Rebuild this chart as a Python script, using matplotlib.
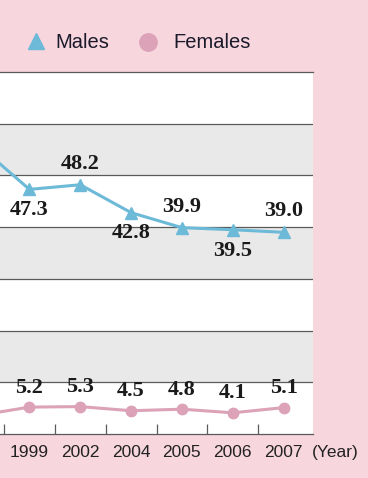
import matplotlib
matplotlib.use('Agg')
import matplotlib.pyplot as plt

# data (first point sits left of the visible area, its year is cut off)
years = ['', '1999', '2002', '2004', '2005', '2006', '2007']
males = [55.8, 47.3, 48.2, 42.8, 39.9, 39.5, 39.0]
females = [3.6, 5.2, 5.3, 4.5, 4.8, 4.1, 5.1]
# where the male value label sits: 1 above, -1 below
male_side = [1, -1, 1, -1, 1, -1, 1]

bg = '#f7d6de'
blue = '#6cb9d8'
pink = '#dba2b8'

fig = plt.figure(figsize=(3.68, 4.78), dpi=100, facecolor=bg)
ax = fig.add_axes([0, 44/478, 313/368, (434-72)/478])
ax.set_facecolor('white')

x = list(range(len(years)))

for lo in (10, 30, 50):
    ax.axhspan(lo, lo + 10, color='#e9e9e9', zorder=0, lw=0)
for yv in range(10, 70, 10):
    ax.axhline(yv, color='#5a5a5a', lw=0.9, zorder=1)

ax.plot(x, males, color=blue, lw=2.2, marker='^', ms=8.5, zorder=3)
ax.plot(x, females, color=pink, lw=2.2, marker='o', ms=7.5, zorder=3)

ax.set_yticks([])
ax.set_xticks(x)
ax.set_xticklabels(years, fontsize=12.5, family='Liberation Sans', color='#222222')
ax.tick_params(axis='x', which='major', length=0, pad=8)
ax.set_xticks([i + 0.5 for i in range(len(years) - 1)], minor=True)
ax.tick_params(axis='x', which='minor', direction='in', length=7, width=0.9,
               color='#5a5a5a')
ax.set_xlim(0.42, 6.58)
ax.set_ylim(0, 70)

for i in x:
    ax.annotate(f'{males[i]:.1f}', (i, males[i]), xytext=(0, 15 * male_side[i]),
                textcoords='offset points', ha='center', va='center',
                fontsize=16, fontweight='bold', family='Liberation Serif',
                color='#1a1a1a', annotation_clip=True)
    ax.annotate(f'{females[i]:.1f}', (i, females[i]), xytext=(0, 14),
                textcoords='offset points', ha='center', va='center',
                fontsize=16, fontweight='bold', family='Liberation Serif',
                color='#1a1a1a', annotation_clip=True)

for s in ('left', 'right'):
    ax.spines[s].set_visible(False)
ax.spines['top'].set_color('#5a5a5a')
ax.spines['top'].set_linewidth(0.9)
ax.spines['bottom'].set_color('#5a5a5a')
ax.spines['bottom'].set_linewidth(0.9)

fig.text(312/368, 1 - 453/478, '(Year)', fontsize=12.5, family='Liberation Sans',
         color='#222222', ha='left', va='center')

# legend drawn by hand in pixel units
lg = fig.add_axes([0, 0, 1, 1])
lg.set_xlim(0, 368)
lg.set_ylim(478, 0)
lg.axis('off')
lg.plot([36], [41], ls='none', marker='^', ms=12, color=blue)
lg.text(55, 42, 'Males', fontsize=14.5, family='Liberation Sans',
        color='#1a1a2a', va='center')
lg.plot([148], [42], ls='none', marker='o', ms=12.5, color=pink)
lg.text(173, 42, 'Females', fontsize=14.5, family='Liberation Sans',
        color='#1a1a2a', va='center')

fig.savefig('out.png', dpi=100, facecolor=bg)
